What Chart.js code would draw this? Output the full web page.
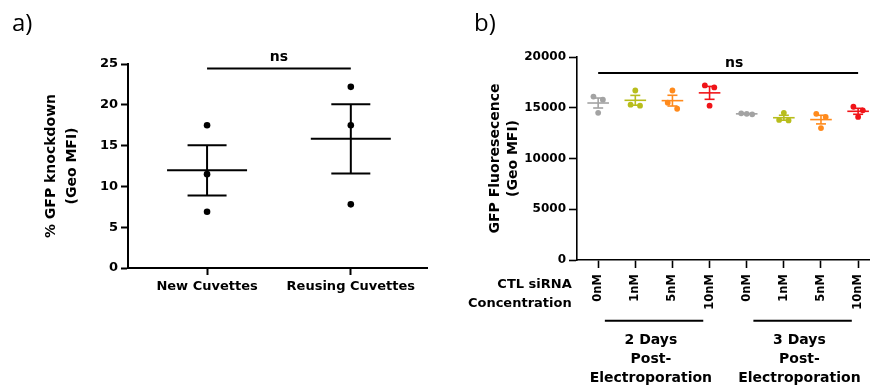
<!DOCTYPE html>
<html>
<head>
<meta charset="utf-8">
<script src="https://cdn.jsdelivr.net/npm/chart.js@4.4.1/dist/chart.umd.min.js"></script>
<style>
  body { margin: 0; background: #fff; width: 870px; height: 389px; position: relative; overflow: hidden; }
  canvas { position: absolute; top: 0; }
</style>
</head>
<body>
<canvas id="chart-a" style="left:0" width="440" height="389"></canvas>
<canvas id="chart-b" style="left:440px" width="430" height="389"></canvas>
<script>
// ---- panel a data
const cuvetteLabels = ["New Cuvettes", "Reusing Cuvettes"];
const newCuvettes = [17.5, 11.5, 6.9];
const reusingCuvettes = [22.2, 17.5, 7.8];
const knockdownTicks = [0, 5, 10, 15, 20, 25];

// ---- panel b data
const concLabels = ["0nM", "1nM", "5nM", "10nM", "0nM", "1nM", "5nM", "10nM"];
const day2_0nM = [16100, 15800, 14500];
const day2_1nM = [16700, 15200, 15300];
const day2_5nM = [16700, 15500, 14900];
const day2_10nM = [17200, 17000, 15200];
const day3_0nM = [14450, 14350, 14400];
const day3_1nM = [14500, 13800, 13750];
const day3_5nM = [14400, 14100, 13000];
const day3_10nM = [15100, 14750, 14100];
const fluorTicks = [0, 5000, 10000, 15000, 20000];
const dayLabels = [["2 Days", "Post-", "Electroporation"], ["3 Days", "Post-", "Electroporation"]];

const concColors = ["#a3a3a3", "#b8bd1c", "#ff8a1c", "#f01418"];

Chart.defaults.font.family = "'DejaVu Sans', sans-serif";
Chart.defaults.font.weight = "bold";
Chart.defaults.color = "#000";
Chart.defaults.animation = false;
Chart.defaults.plugins.legend.display = false;
Chart.defaults.plugins.tooltip.enabled = false;

function mean(a) { return a.reduce((s, v) => s + v, 0) / a.length; }
function sem(a) {
  const m = mean(a);
  const v = a.reduce((s, x) => s + (x - m) * (x - m), 0) / (a.length - 1);
  return Math.sqrt(v / a.length);
}

// spread values that sit close together side by side (like a scatter column)
function dodge(vals, gap, pairStep, tripleStep) {
  const idx = vals.map((v, i) => i).sort((i, j) => vals[j] - vals[i]);
  const off = vals.map(() => 0);
  let cluster = [idx[0]];
  const flush = () => {
    const n = cluster.length;
    const step = n === 2 ? pairStep : tripleStep;
    cluster.forEach((k, i) => { off[k] = (i - (n - 1) / 2) * step; });
  };
  for (let i = 1; i < idx.length; i++) {
    if (vals[idx[i - 1]] - vals[idx[i]] < gap) cluster.push(idx[i]);
    else { flush(); cluster = [idx[i]]; }
  }
  flush();
  return off;
}

function buildSets(groups, colors, o) {
  const pts = [], ptCol = [], means = [], caps = [], capCol = [], sets = [];
  groups.forEach((vals, g) => {
    const off = dodge(vals, o.gap, o.pair, o.triple);
    vals.forEach((v, i) => { pts.push({ x: g + off[i], y: v }); ptCol.push(colors[g]); });
    const m = mean(vals), e = sem(vals);
    means.push({ x: g, y: m });
    caps.push({ x: g, y: m + e }, { x: g, y: m - e });
    capCol.push(colors[g], colors[g]);
    sets.push({
      data: [{ x: g, y: m - e }, { x: g, y: m + e }],
      showLine: true, pointRadius: 0, borderColor: colors[g], borderWidth: o.lw
    });
  });
  sets.push({
    data: means, pointStyle: "line", pointRadius: o.meanHalf,
    pointBorderColor: colors, pointBorderWidth: o.lw
  });
  sets.push({
    data: caps, pointStyle: "line", pointRadius: o.capHalf,
    pointBorderColor: capCol, pointBorderWidth: o.lw
  });
  sets.push({
    data: pts, pointRadius: o.dot, pointBackgroundColor: ptCol, pointBorderWidth: 0
  });
  sets.forEach(s => { s.clip = false; s.pointHoverRadius = s.pointRadius; });
  return sets;
}

function axisOpts(lw, tick) {
  return {
    border: { display: true, color: "#000", width: lw },
    grid: { drawOnChartArea: false, drawTicks: true, tickLength: tick, tickColor: "#000", tickWidth: lw }
  };
}

// ---- panel a
const annotateA = {
  id: "annotateA",
  afterDraw(chart) {
    const { ctx, scales: { x, y } } = chart;
    const x0 = x.getPixelForValue(0), x1 = x.getPixelForValue(1), yb = y.getPixelForValue(24.45);
    ctx.save();
    ctx.strokeStyle = "#000";
    ctx.lineWidth = 2;
    ctx.beginPath(); ctx.moveTo(x0, yb); ctx.lineTo(x1, yb); ctx.stroke();
    ctx.fillStyle = "#000";
    ctx.textAlign = "center";
    ctx.font = "bold 14px 'DejaVu Sans'";
    ctx.fillText("ns", (x0 + x1) / 2, yb - 7.5);
    ctx.textAlign = "left";
    ctx.font = "24px 'Open Sans'";
    ctx.fillText("a)", 12, 31);
    ctx.restore();
  }
};

new Chart(document.getElementById("chart-a"), {
  type: "scatter",
  data: {
    datasets: buildSets([newCuvettes, reusingCuvettes], ["#000", "#000"],
      { gap: 0.8, pair: 0.06, triple: 0.06, lw: 2, meanHalf: 40, capHalf: 19.5, dot: 3.3 })
  },
  options: {
    responsive: false,
    layout: { autoPadding: false, padding: { top: 64, right: 13, bottom: 0, left: 0 } },
    scales: {
      x: Object.assign(axisOpts(2, 7), {
        type: "linear", min: -0.55, max: 1.53,
        afterFit: s => { s.height = 121; s.paddingLeft = 0; s.paddingRight = 0; },
        afterBuildTicks: s => { s.ticks = cuvetteLabels.map((_, i) => ({ value: i })); },
        ticks: { autoSkip: false, maxRotation: 0, padding: 4, font: { size: 13, weight: "bold" },
                 callback: v => cuvetteLabels[v] }
      }),
      y: Object.assign(axisOpts(2, 7), {
        min: 0, max: 25,
        afterFit: s => { s.width = 128; s.paddingTop = 0; s.paddingBottom = 0; },
        afterBuildTicks: s => { s.ticks = knockdownTicks.map(v => ({ value: v })); },
        ticks: { padding: 3, font: { size: 13, weight: "bold" }, callback: v => String(v) },
        title: { display: true, text: ["% GFP knockdown", "(Geo MFI)"], color: "#000",
                 font: { size: 14, weight: "bold", lineHeight: 1.5 }, padding: { top: 41, bottom: 0 } }
      })
    }
  },
  plugins: [annotateA]
});

// ---- panel b
const annotateB = {
  id: "annotateB",
  afterDraw(chart) {
    const { ctx, scales: { x, y } } = chart;
    ctx.save();
    ctx.strokeStyle = "#000";
    ctx.fillStyle = "#000";
    ctx.lineWidth = 2;
    const x0 = x.getPixelForValue(0), x7 = x.getPixelForValue(7), yb = y.getPixelForValue(18430);
    ctx.beginPath(); ctx.moveTo(x0, yb); ctx.lineTo(x7, yb); ctx.stroke();
    ctx.textAlign = "center";
    ctx.font = "bold 14px 'DejaVu Sans'";
    ctx.fillText("ns", (x0 + x7) / 2 + 6, yb - 6);

    ctx.textAlign = "right";
    ctx.font = "bold 13px 'DejaVu Sans'";
    ctx.fillText("CTL siRNA", 131.7, 287.7);
    ctx.fillText("Concentration", 131.7, 306.5);

    ctx.font = "bold 14px 'DejaVu Sans'";
    dayLabels.forEach((lines, g) => {
      const a = x.getPixelForValue(g * 4 + 0.18), b = x.getPixelForValue(g * 4 + 2.83);
      ctx.beginPath(); ctx.moveTo(a, 320.7); ctx.lineTo(b, 320.7); ctx.stroke();
      ctx.textAlign = "center";
      const cx = x.getPixelForValue(g * 4 + 1.5) - 3;
      lines.forEach((t, i) => ctx.fillText(t, cx, 344 + i * 18.8));
    });

    ctx.textAlign = "left";
    ctx.font = "24px 'Open Sans'";
    ctx.fillText("b)", 34, 31);
    ctx.restore();
  }
};

const fluorGroups = [day2_0nM, day2_1nM, day2_5nM, day2_10nM, day3_0nM, day3_1nM, day3_5nM, day3_10nM];
const fluorColors = fluorGroups.map((_, i) => concColors[i % 4]);

new Chart(document.getElementById("chart-b"), {
  type: "scatter",
  data: {
    datasets: buildSets(fluorGroups, fluorColors,
      { gap: 640, pair: 0.254, triple: 0.148, lw: 1.6, meanHalf: 10.8, capHalf: 5, dot: 2.9 })
  },
  options: {
    responsive: false,
    layout: { autoPadding: false, padding: { top: 57, right: 0, bottom: 0, left: 0 } },
    scales: {
      x: Object.assign(axisOpts(1.6, 8), {
        type: "linear", min: -0.57, max: 7.32,
        afterFit: s => { s.height = 129; s.paddingLeft = 0; s.paddingRight = 0; },
        afterBuildTicks: s => { s.ticks = concLabels.map((_, i) => ({ value: i })); },
        ticks: { autoSkip: false, minRotation: 90, maxRotation: 90, padding: 6,
                 font: { size: 11.5, weight: "bold" }, callback: v => concLabels[v] }
      }),
      y: Object.assign(axisOpts(1.6, 8), {
        min: 0, max: 20000,
        afterFit: s => { s.width = 137; s.paddingTop = 0; s.paddingBottom = 0; },
        afterBuildTicks: s => { s.ticks = fluorTicks.map(v => ({ value: v })); },
        ticks: { padding: 3, font: { size: 12, weight: "bold" }, callback: v => String(v) },
        title: { display: true, text: ["GFP Fluoresecence", "(Geo MFI)"], color: "#000",
                 font: { size: 14, weight: "bold", lineHeight: 1.3 }, padding: { top: 46, bottom: 0 } }
      })
    }
  },
  plugins: [annotateB]
});
</script>
</body>
</html>
